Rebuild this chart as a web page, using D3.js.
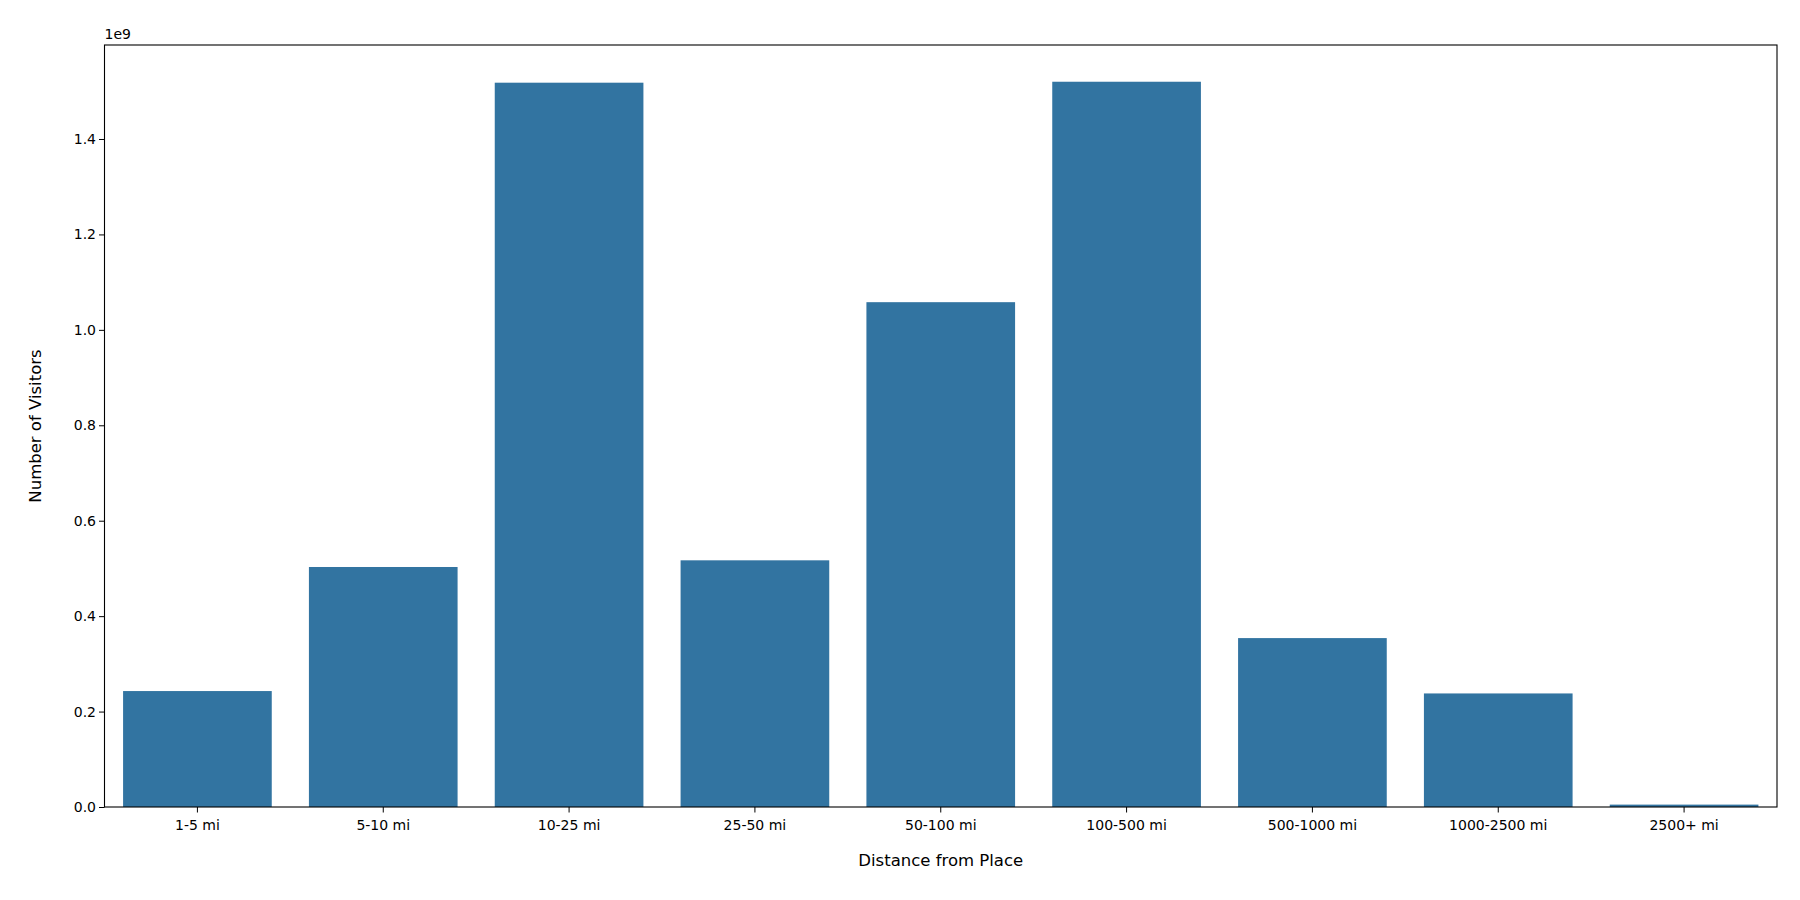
<!DOCTYPE html>
<html><head><meta charset="utf-8">
<script src="https://cdn.jsdelivr.net/npm/d3@7"></script>
<style>body{margin:0;background:#fff}svg{font-family:"DejaVu Sans",sans-serif}</style>
</head><body><svg id="c" width="1800" height="900"></svg>
<script>
const categories=["1-5 mi","5-10 mi","10-25 mi","25-50 mi","50-100 mi","100-500 mi","500-1000 mi","1000-2500 mi","2500+ mi"];
const visitors=[0.243e9,0.503e9,1.518e9,0.517e9,1.058e9,1.520e9,0.354e9,0.238e9,0.005e9];
const yTicks=[0,0.2e9,0.4e9,0.6e9,0.8e9,1.0e9,1.2e9,1.4e9];

const svg=d3.select("#c");
const L=104.5,R=1777,T=45,B=807;
const x=d3.scaleBand().domain(categories).range([L,R]).paddingInner(0.2).paddingOuter(0.1);
const y=d3.scaleLinear().domain([0,1.597e9]).range([B,T]);

svg.selectAll("rect.bar").data(visitors).join("rect").attr("class","bar")
 .attr("x",(d,i)=>x(categories[i])).attr("width",x.bandwidth())
 .attr("y",d=>y(d)).attr("height",d=>B-y(d)).attr("fill","#3274a1");

const xa=svg.append("g").attr("transform",`translate(0,${B})`).call(d3.axisBottom(x).tickSizeOuter(0).tickSize(5.5));
const ya=svg.append("g").attr("transform",`translate(${L},0)`).call(d3.axisLeft(y).tickValues(yTicks).tickFormat(d=>(d/1e9).toFixed(1)).tickSizeOuter(0).tickSize(5.5));
[xa,ya].forEach(a=>{a.selectAll("text").attr("font-size",14).attr("fill","#000").attr("font-family","DejaVu Sans");a.select(".domain").remove();a.selectAll("line").attr("stroke","#000")});
xa.selectAll("text").attr("dy","1.05em");
svg.append("rect").attr("x",L).attr("y",T).attr("width",R-L).attr("height",B-T).attr("fill","none").attr("stroke","#000").attr("stroke-width",1.1);
svg.append("text").attr("x",L).attr("y",T-6).attr("font-size",14).text("1e9");
svg.append("text").attr("x",(L+R)/2).attr("y",866).attr("text-anchor","middle").attr("font-size",16.5).text("Distance from Place");
svg.append("text").attr("transform",`translate(41,${(T+B)/2}) rotate(-90)`).attr("text-anchor","middle").attr("font-size",16.5).text("Number of Visitors");
</script></body></html>
